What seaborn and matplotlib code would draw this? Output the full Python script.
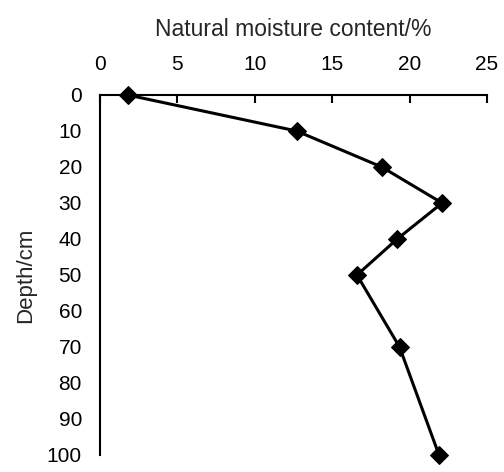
import matplotlib
matplotlib.use("Agg")
import matplotlib.pyplot as plt
import seaborn as sns
import pandas as pd

depth_cm = [0, 10, 20, 30, 40, 50, 70, 100]
moisture_pct = [1.8, 12.7, 18.2, 22.1, 19.2, 16.6, 19.35, 21.9]
x_ticks = [0, 5, 10, 15, 20, 25]
y_ticks = [0, 10, 20, 30, 40, 50, 60, 70, 80, 90, 100]

sns.set_style("white")
plt.rcParams['font.family'] = ['Liberation Sans', 'DejaVu Sans']

df = pd.DataFrame({"moisture": moisture_pct, "depth": depth_cm})

fig = plt.figure(figsize=(5.04, 4.72), dpi=100)
ax = fig.add_axes([100/504, 1 - 455/472, 387/504, 360/472])

sns.lineplot(data=df, x="moisture", y="depth", sort=False, ax=ax,
             color="black", linewidth=2.2, marker="D", markersize=9,
             markeredgecolor="black", markerfacecolor="black")

ax.set_xlim(0, 25)
ax.set_ylim(100, 0)
ax.set_xticks(x_ticks)
ax.set_yticks(y_ticks)
ax.xaxis.tick_top()
ax.xaxis.set_label_position("top")
for s in ["right", "bottom"]:
    ax.spines[s].set_visible(False)
for s in ["top", "left"]:
    ax.spines[s].set_color("black")
    ax.spines[s].set_linewidth(1.5)
ax.tick_params(axis="both", direction="in", length=6, width=1.5, colors="black",
               labelsize=15)
ax.tick_params(axis="y", pad=13)
ax.tick_params(axis="x", labeltop=True, labelbottom=False, top=True, bottom=False, pad=15)
ax.set_xlabel("Natural moisture content/%", fontsize=16.5, labelpad=14)
ax.set_ylabel("Depth/cm", fontsize=16, labelpad=8)
for line in ax.lines:
    line.set_clip_on(False)

fig.savefig("out.png", dpi=100)
